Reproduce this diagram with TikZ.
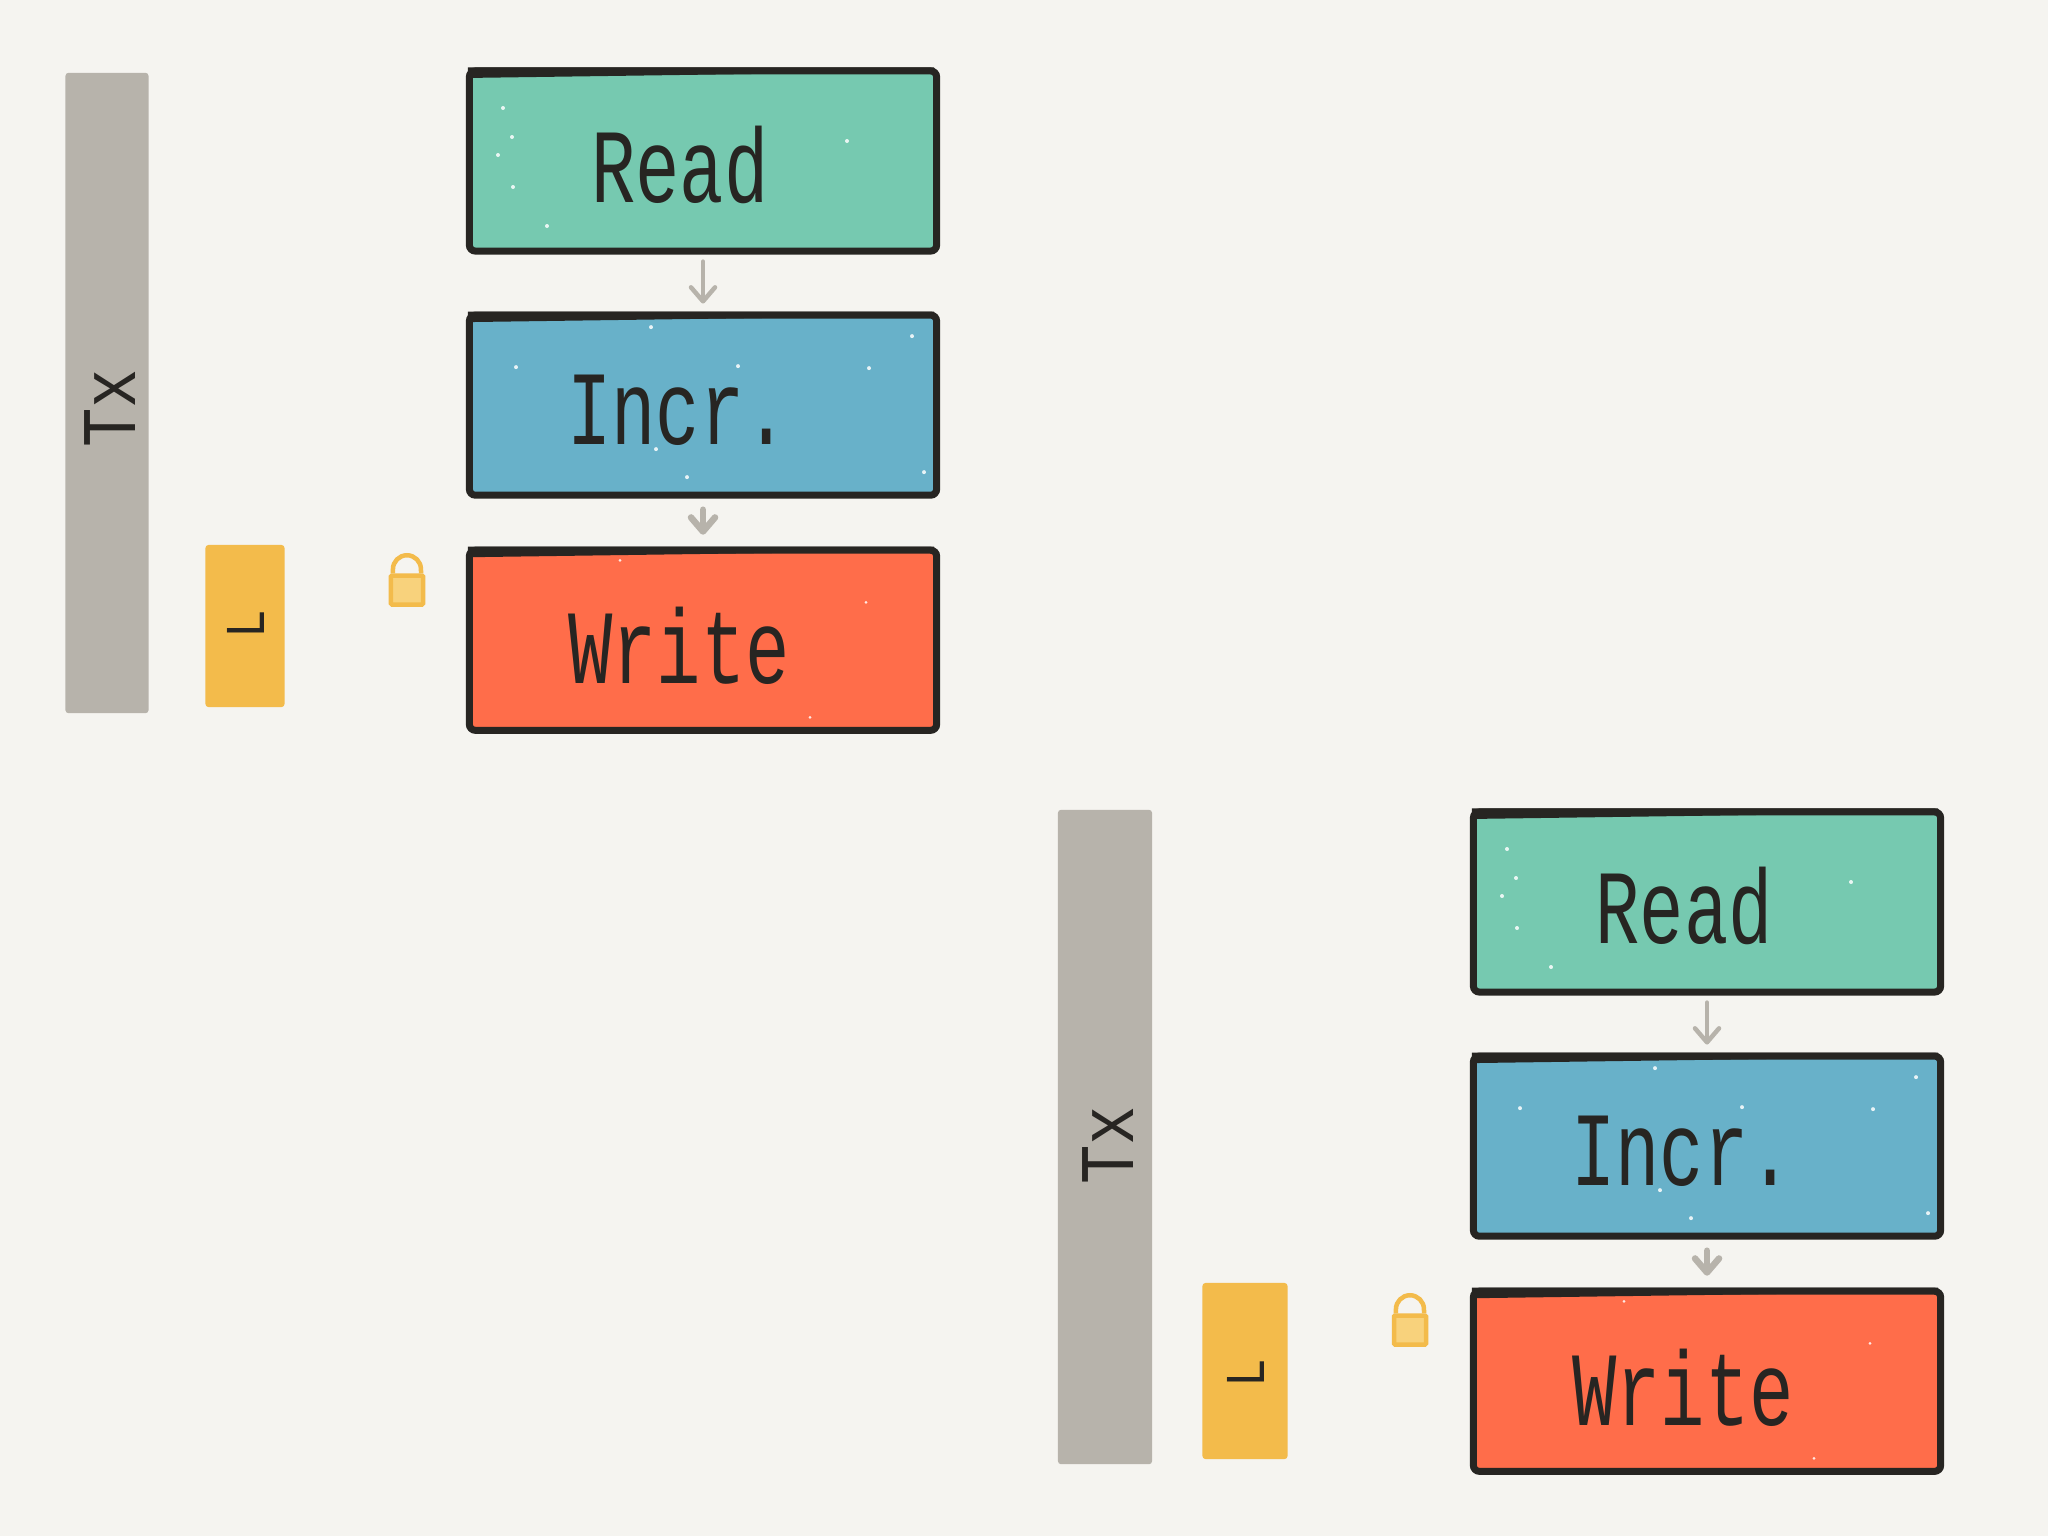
\documentclass[tikz,border=0pt]{standalone}
\usepackage{fontspec}
\newfontfamily\handfont[FakeStretch=0.7]{Liberation Mono}
\newfontfamily\widehand[FakeStretch=0.85]{Liberation Mono}
\usetikzlibrary{arrows.meta,positioning}
\definecolor{paper}{HTML}{F5F4F0}
\definecolor{ink}{HTML}{272522}
\definecolor{stone}{HTML}{B7B3AB}
\definecolor{mint}{HTML}{76C9B0}
\definecolor{sky}{HTML}{68B1C9}
\definecolor{coral}{HTML}{FF6D4A}
\definecolor{amber}{HTML}{F3BB4B}
\definecolor{amberlight}{HTML}{F8D27C}
\tikzset{
x=0.01cm, y=-0.01cm, % one unit is one pixel of the sketch
stepbox/.style={draw=ink, line width=0.07cm, rounded corners=0.06cm, minimum width=4.67cm, minimum height=1.80cm, inner sep=0pt},
hand/.style={text=ink, inner sep=0pt, font=\handfont\fontsize{30}{30}\selectfont},
mark tx/.style={text=ink, inner sep=0pt, rotate=90, font=\widehand\fontsize{22}{22}\selectfont},
mark l/.style={text=ink, inner sep=0pt, rotate=90, font=\widehand\fontsize{16}{16}\selectfont},
bar/.style={fill=stone, rounded corners=0.03cm, minimum width=0.83cm, inner sep=0pt},
hold/.style={fill=amber, rounded corners=0.03cm, minimum width=0.79cm, inner sep=0pt},
lockbody/.style={draw=amber, fill=amberlight, line width=0.045cm, rounded corners=0.01cm, minimum width=0.32cm, minimum height=0.29cm, inner sep=0pt},
shackle/.style={draw=amber, line width=0.045cm},
flow/.style={draw=stone, line width=0.045cm, line cap=round, -{Straight Barb[round,length=0.14cm,width=0.24cm]}, shorten >=0.08cm, shorten <=0.07cm},
flowfat/.style={flow, line width=0.065cm, shorten >=0.12cm, shorten <=0.11cm},
speck/.style={fill=white, opacity=0.85},
node distance=2.44cm,
}
\begin{document}
\begin{tikzpicture}
\fill[paper] (0,0) rectangle (2048,1536);
% left copy
\node[bar, minimum height=6.40cm] (bar1) at (107,393) {};
\node[hold, minimum height=1.62cm] (hold1) at (245,626) {};
\node[mark tx] (tx1) at (110,408) {Tx};
\node[mark l] (l1) at (246,624) {L};
\node[stepbox, fill=mint] (read1) at (703,161) {};
\node[stepbox, fill=sky, below of=read1] (incr1) {};
\node[stepbox, fill=coral, below of=incr1, node distance=2.35cm] (write1) {};
\node[lockbody] (lock1) at (407,590) {};
% right copy
\node[bar, minimum width=0.94cm, minimum height=6.54cm] (bar2) at (1105,1137) {};
\node[hold, minimum width=0.85cm, minimum height=1.76cm] (hold2) at (1245,1371) {};
\node[mark tx] (tx2) at (1108,1145) {Tx};
\node[mark l] (l2) at (1246,1373) {L};
\node[stepbox, fill=mint] (read2) at (1707,902) {};
\node[stepbox, fill=sky, below of=read2] (incr2) {};
\node[stepbox, fill=coral, below of=incr2, node distance=2.35cm] (write2) {};
\node[lockbody] (lock2) at (1410,1330) {};
% what both copies share
\foreach \c in {1,2} {
\foreach \b in {read,incr,write} {
\fill[ink] ([xshift=0.02cm]\b\c.north west) -- ([xshift=0.02cm,yshift=-0.105cm]\b\c.north west) -- ([xshift=-0.06cm,yshift=-0.04cm]\b\c.north east) -- ([xshift=-0.06cm]\b\c.north east) -- cycle;
}
\foreach \dx/\dy in {144/-20,-156/65,-200/-53,-191/-24,-205/-6,-190/26} {
\fill[speck] ([shift={(\dx,\dy)}]read\c) circle (0.02cm);
}
\foreach \dx/\dy in {-52/-78,209/-69,166/-37,35/-39,-16/72,221/67,-187/-38,-47/44} {
\fill[speck] ([shift={(\dx,\dy)}]incr\c) circle (0.02cm);
}
\foreach \dx/\dy in {163/-38,-83/-80,107/77} {
\fill[speck] ([shift={(\dx,\dy)}]write\c) circle (0.015cm);
}
\node[hand] (tread\c) at ([shift={(-23,4)}]read\c) {Read};
\node[hand] (tincr\c) at ([shift={(-25,5)}]incr\c) {Incr.};
\node[hand] (twrite\c) at ([shift={(-24,6)}]write\c) {Write};
\draw[flow] (read\c) -- (incr\c);
\draw[flowfat] (incr\c) -- (write\c);
\draw[shackle] ([xshift=0.042cm]lock\c.north west) -- ++(0,-4) arc[start angle=180, end angle=0, radius=0.14cm] -- ([xshift=-0.042cm]lock\c.north east);
}
\end{tikzpicture}
\end{document}
